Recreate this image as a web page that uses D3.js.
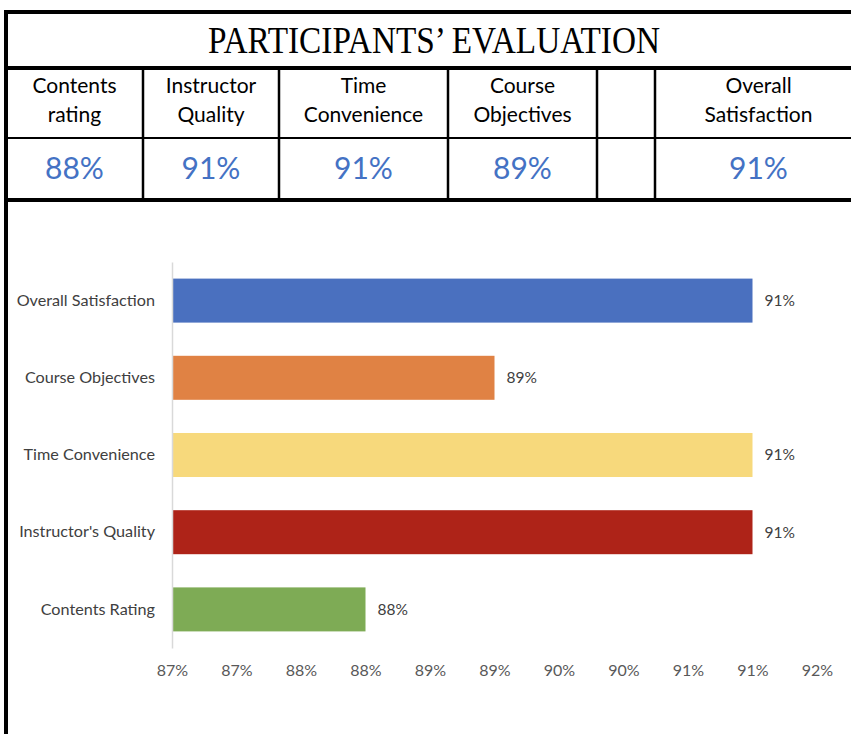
<!DOCTYPE html>
<html>
<head>
<meta charset="utf-8">
<script src="https://cdn.jsdelivr.net/npm/d3@7"></script>
<style>
body { margin: 0; background: #fff; }
svg { display: block; }
</style>
</head>
<body>
<svg id="chart" width="851" height="734"></svg>
<script>
// table data
var tableTitle = "PARTICIPANTS\u2019 EVALUATION";
var headerLines = [["Contents", "rating"], ["Instructor", "Quality"], ["Time", "Convenience"], ["Course", "Objectives"], [], ["Overall", "Satisfaction"]];
var headerValues = ["88%", "91%", "91%", "89%", "", "91%"];

// bar chart data (top to bottom)
var categories = ["Overall Satisfaction", "Course Objectives", "Time Convenience", "Instructor's Quality", "Contents Rating"];
var values = [91.1, 89.1, 91.1, 91.1, 88.1];
var barLabels = ["91%", "89%", "91%", "91%", "88%"];
var barColors = ["#4a70bf", "#e08244", "#f7d97c", "#ae2318", "#7eab55"];
var tickValues = [86.6, 87.1, 87.6, 88.1, 88.6, 89.1, 89.6, 90.1, 90.6, 91.1, 91.6];

var sans = "Lato, 'Open Sans', sans-serif",
	labelcolor = "#404040",
	axiscolor = "#595959";

var svg = d3.select("#chart");

// ---- table ----
var colEdges = [6, 143, 279, 448, 597, 655, 862];
var rowY = [12, 68, 138, 200];

var tbl = svg.append("g");
tbl.append("text")
	.attr("x", 434)
	.attr("y", 53)
	.attr("text-anchor", "middle")
	.attr("font-family", "'Liberation Serif', 'Times New Roman', serif")
	.attr("font-size", 38)
	.attr("textLength", 452)
	.attr("lengthAdjust", "spacingAndGlyphs")
	.attr("fill", "#000")
	.text(tableTitle);

headerLines.forEach(function(lines, i) {
	var cx = (colEdges[i] + colEdges[i + 1]) / 2;
	lines.forEach(function(t, j) {
		tbl.append("text")
			.attr("x", cx)
			.attr("y", 93 + j * 29)
			.attr("text-anchor", "middle")
			.attr("font-family", sans)
			.attr("font-size", 21)
			.attr("fill", "#000")
			.text(t);
	});
	tbl.append("text")
		.attr("x", cx)
		.attr("y", 179)
		.attr("text-anchor", "middle")
		.attr("font-family", sans)
		.attr("font-size", 30)
		.attr("fill", "#4472c4")
		.text(headerValues[i]);
});

// horizontal rules
[[rowY[0], 4], [rowY[1], 4], [rowY[2], 2], [rowY[3], 4]].forEach(function(r) {
	tbl.append("line")
		.attr("x1", 4).attr("x2", 851)
		.attr("y1", r[0]).attr("y2", r[0])
		.attr("stroke", "#000")
		.attr("stroke-width", r[1]);
});
// column dividers
colEdges.slice(1, 6).forEach(function(x) {
	tbl.append("line")
		.attr("x1", x).attr("x2", x)
		.attr("y1", rowY[1]).attr("y2", rowY[3])
		.attr("stroke", "#000")
		.attr("stroke-width", 2.5);
});
// left border
tbl.append("line")
	.attr("x1", 6).attr("x2", 6)
	.attr("y1", 10).attr("y2", 734)
	.attr("stroke", "#000")
	.attr("stroke-width", 4);

// ---- bar chart ----
var x = d3.scaleLinear()
	.domain([tickValues[0], tickValues[tickValues.length - 1]])
	.range([172, 817]);
var y = d3.scaleBand()
	.domain(categories)
	.range([262, 648])
	.paddingInner(0.43)
	.paddingOuter(0.215);

var g = svg.append("g");

g.selectAll(".bar")
	.data(categories)
	.enter().append("rect")
	.attr("class", "bar")
	.attr("x", x(tickValues[0]))
	.attr("y", function(d) { return y(d); })
	.attr("width", function(d, i) { return x(values[i]) - x(tickValues[0]); })
	.attr("height", y.bandwidth())
	.attr("fill", function(d, i) { return barColors[i]; });

g.selectAll(".vlabel")
	.data(categories)
	.enter().append("text")
	.attr("class", "vlabel")
	.attr("x", function(d, i) { return x(values[i]) + 12; })
	.attr("y", function(d) { return y(d) + y.bandwidth() / 2; })
	.attr("dy", "0.35em")
	.attr("font-family", sans)
	.attr("font-size", 15.5)
	.attr("fill", labelcolor)
	.text(function(d, i) { return barLabels[i]; });

// category axis
var left = g.append("g")
	.attr("transform", "translate(" + x(tickValues[0]) + ",0)")
	.call(d3.axisLeft(y).tickSize(0).tickPadding(17));
left.select(".domain")
	.attr("stroke", "#d9d9d9")
	.attr("stroke-width", 1.5);
left.selectAll("text")
	.attr("font-family", sans)
	.attr("font-size", 16.2)
	.attr("fill", labelcolor);

// value axis (labels only)
var bot = g.append("g")
	.attr("transform", "translate(0,648)")
	.call(d3.axisBottom(x).tickValues(tickValues).tickFormat(d3.format(".0f")).tickSize(0).tickPadding(17));
bot.select(".domain").remove();
bot.selectAll("text")
	.attr("font-family", sans)
	.attr("font-size", 16)
	.attr("fill", axiscolor)
	.text(function(d) { return d3.format(".0f")(d) + "%"; });
</script>
</body>
</html>
